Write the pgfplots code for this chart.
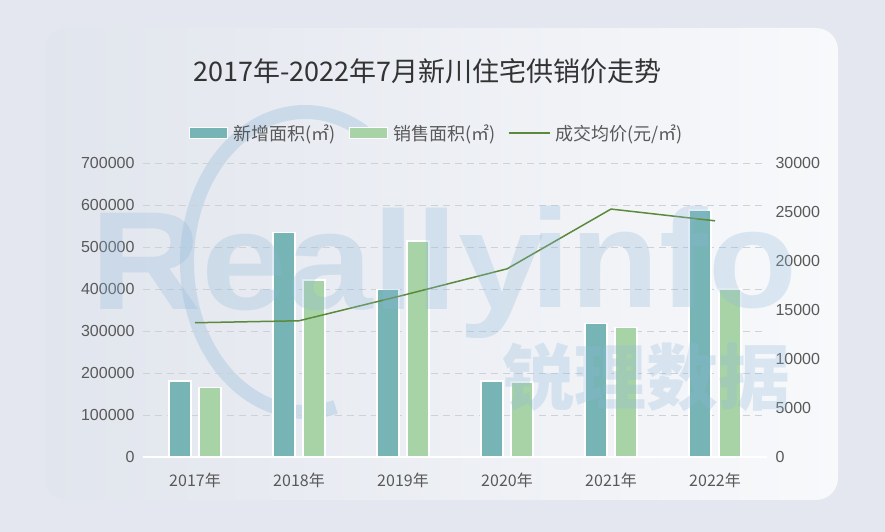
\documentclass[border=0pt]{standalone}
\usepackage{pgfplots}
\pgfplotsset{compat=1.18}
\usepackage{fontspec}
\setmainfont{Liberation Sans}
\newfontfamily\cjk{Noto Sans CJK SC}
\definecolor{bg}{HTML}{E4E7EF}
\definecolor{panelL}{HTML}{E1E5ED}
\definecolor{panelR}{HTML}{F8F9FB}
\definecolor{newc}{HTML}{77B4B5}
\definecolor{salec}{HTML}{A8D3A7}
\definecolor{linec}{HTML}{5B8A3C}
\definecolor{wm}{HTML}{8FB8DA}
\definecolor{tickc}{HTML}{595959}
\definecolor{gridc}{HTML}{CDD1D8}
\pgfplotsset{
  barleg/.style={legend image code/.code={\draw[##1] (0pt,-5.5pt) rectangle (38pt,5.5pt);}},
  lineleg/.style={legend image code/.code={\draw[##1] (0pt,0pt) -- (41pt,0pt);}},
}
\begin{document}
\begin{tikzpicture}[x=1pt,y=1pt]
\useasboundingbox (0,0) rectangle (885,532);
\fill[bg] (0,0) rectangle (885,532);
\shade[left color=panelL, right color=panelR, rounded corners=22pt] (45,32) rectangle (838,504);
\node[font=\cjk\fontsize{27}{32}\selectfont, text=black!80] at (427.5,461) {2017年-2022年7月新川住宅供销价走势};

% watermark (behind)
\begin{scope}[opacity=0.32]
\draw[wm, line width=14pt] (305,270) ++(60:118 and 150) arc[start angle=60, end angle=285, x radius=118, y radius=150];
\end{scope}

\begin{axis}[
  at={(143pt,75pt)}, anchor=south west,
  scale only axis, width=624pt, height=294pt,
  xmin=-0.5, xmax=5.5, ymin=0, ymax=700000,
  xtick={0,...,5},
  xticklabels={2017年,2018年,2019年,2020年,2021年,2022年},
  ytick={0,100000,...,700000},
  scaled y ticks=false,
  yticklabel style={/pgf/number format/fixed, /pgf/number format/1000 sep={}, font=\fontsize{16}{18}\selectfont, text=tickc, xshift=-5pt},
  xticklabel style={font=\cjk\fontsize{16}{18}\selectfont, text=tickc, yshift=-12pt},
  /pgf/number format/assume math mode=true,
  axis x line*=bottom, axis y line*=left,
  x axis line style={white, line width=2pt},
  y axis line style={draw=none},
  major tick length=0pt,
  ymajorgrids,
  grid style={gridc, line width=0.8pt, dash pattern=on 7pt off 5pt},
  legend columns=3,
  legend style={at={(0.471,1.102)}, anchor=center, draw=none, fill=none,
    font=\cjk\fontsize{18}{20}\selectfont, text=tickc,
    /tikz/every odd column/.append style={column sep=3pt},
    /tikz/every even column/.append style={column sep=11pt}},
  clip=false,
]
\addplot[ybar, bar width=22pt, bar shift=-15pt, fill=newc, draw=white, line width=1.5pt, barleg]
  coordinates {(0,181000) (1,534000) (2,399000) (3,181000) (4,318000) (5,588000)};
\addlegendentry{新增面积(㎡)}
\addplot[ybar, bar width=22pt, bar shift=15pt, fill=salec, draw=white, line width=1.5pt, barleg]
  coordinates {(0,165000) (1,421000) (2,514000) (3,178600) (4,308000) (5,400000)};
\addlegendentry{销售面积(㎡)}
\addlegendimage{linec, line width=1.5pt, lineleg}
\addlegendentry{成交均价(元/㎡)}
\end{axis}

\begin{axis}[
  at={(143pt,75pt)}, anchor=south west,
  scale only axis, width=624pt, height=294pt,
  xmin=-0.5, xmax=5.5, ymin=0, ymax=30000,
  axis x line=none, axis y line*=right,
  y axis line style={draw=none},
  major tick length=0pt,
  ytick={0,5000,...,30000},
  scaled y ticks=false,
  yticklabel style={/pgf/number format/fixed, /pgf/number format/1000 sep={}, font=\fontsize{16}{18}\selectfont, text=tickc, xshift=5pt},
  /pgf/number format/assume math mode=true,
]
\addplot[linec, line width=1.5pt, mark=none]
  coordinates {(0,13700) (1,13900) (2,16500) (3,19200) (4,25300) (5,24100)};
\end{axis}

% watermark (over)
\begin{scope}[opacity=0.28]
\node[anchor=base west, font=\bfseries\fontsize{140}{150}\selectfont, text=wm, inner sep=0, xscale=1.1] at (90,222) {Really};
\node[anchor=base west, font=\bfseries\fontsize{140}{150}\selectfont, text=wm, inner sep=0, xscale=1.04] at (530,224) {info};
\node[anchor=center, font=\cjk\bfseries\fontsize{72}{80}\selectfont, text=wm, inner sep=0] at (646,155) {锐理数据};
\end{scope}
\end{tikzpicture}
\end{document}
